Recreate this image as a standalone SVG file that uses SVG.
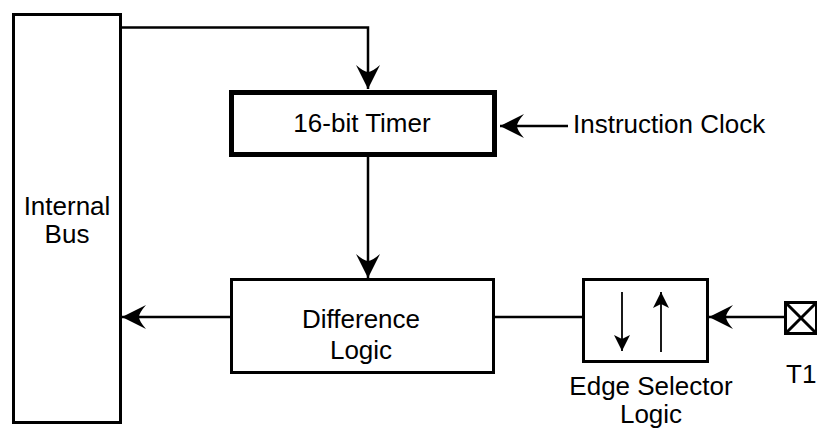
<svg xmlns="http://www.w3.org/2000/svg" width="817" height="428" viewBox="0 0 817 428">
<style>
text{font-family:"Liberation Sans",Arial,sans-serif;font-size:26px;fill:#000}
.box{fill:#fff;stroke:#000;stroke-width:3}
.thick{fill:#fff;stroke:#000;stroke-width:5}
.wire{fill:none;stroke:#000;stroke-width:2.5}
.thin{fill:none;stroke:#000;stroke-width:1.8}
</style>
<defs>
<marker id="ah" markerUnits="userSpaceOnUse" viewBox="-25 -13 27 26" refX="0" refY="0" markerWidth="27" markerHeight="26" orient="auto">
<path d="M0,0 L-24,-12 Q-17,-4 -17,0 Q-17,4 -24,12 Z" fill="#000"/>
</marker>
<marker id="ahs" markerUnits="userSpaceOnUse" viewBox="-17 -9 19 18" refX="0" refY="0" markerWidth="19" markerHeight="18" orient="auto">
<path d="M0,0 L-16,-8 L-12,0 L-16,8 Z" fill="#000"/>
</marker>
</defs>
<g id="connectors">
<path class="wire" d="M122,27.5 H368 V89" marker-end="url(#ah)"/>
<path class="wire" d="M568,126 H500" marker-end="url(#ah)"/>
<path class="wire" d="M368,157 V278" marker-end="url(#ah)"/>
<path class="wire" d="M230,317 H122" marker-end="url(#ah)"/>
<path class="wire" d="M495,317 H582"/>
<path class="wire" d="M784,317 H709" marker-end="url(#ah)"/>
</g>
<g id="internal-bus">
<rect class="box" x="13.5" y="14.5" width="107" height="408"/>
<text x="67" y="215" text-anchor="middle">Internal</text>
<text x="67" y="243" text-anchor="middle">Bus</text>
</g>
<g id="timer">
<rect class="thick" x="231.5" y="92.5" width="263" height="62"/>
<text x="362" y="132" text-anchor="middle">16-bit Timer</text>
</g>
<g id="instruction-clock">
<text x="573" y="133">Instruction Clock</text>
</g>
<g id="difference-logic">
<rect class="box" x="231.5" y="279.5" width="262" height="93"/>
<text x="361" y="328" text-anchor="middle">Difference</text>
<text x="361" y="359" text-anchor="middle">Logic</text>
</g>
<g id="edge-selector">
<rect class="box" x="583.5" y="279.5" width="124" height="82"/>
<path class="thin" d="M622,292 V351" marker-end="url(#ahs)"/>
<path class="thin" d="M661,352 V292" marker-end="url(#ahs)"/>
<text x="651" y="395" text-anchor="middle">Edge Selector</text>
<text x="651" y="423" text-anchor="middle">Logic</text>
</g>
<g id="t1-pin">
<rect class="box" x="785.5" y="302.5" width="31" height="31"/>
<path class="box" d="M785.5,302.5 L816.5,333.5 M816.5,302.5 L785.5,333.5"/>
<text x="786" y="383">T1</text>
</g>
</svg>
